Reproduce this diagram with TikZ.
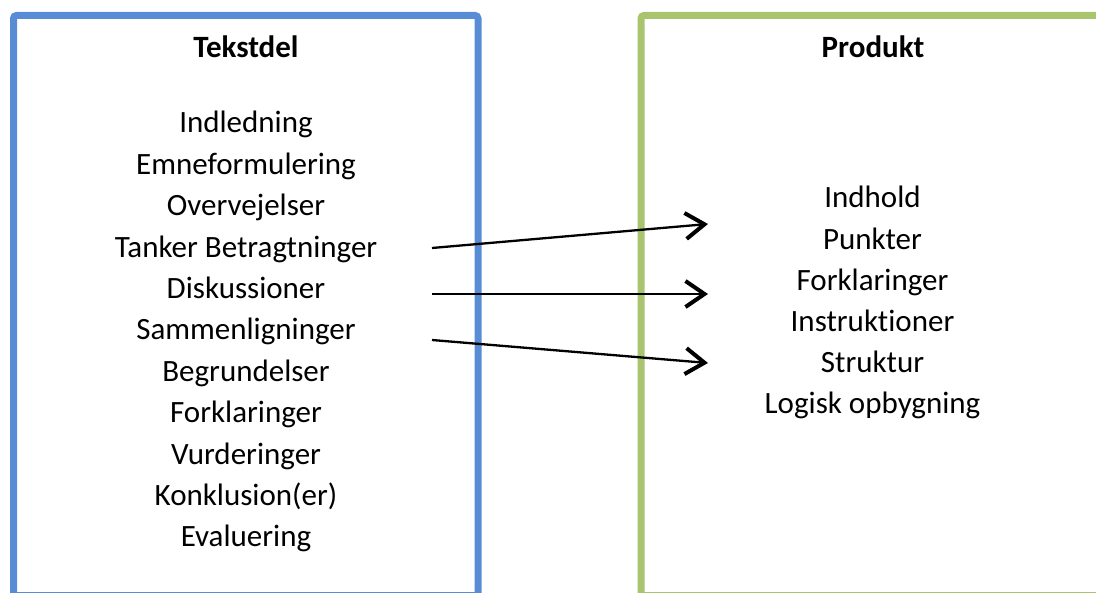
\documentclass[tikz,border=0pt]{standalone}
\usepackage{fontspec}
\setmainfont[Ligatures={NoCommon}]{Carlito}
\usetikzlibrary{arrows.meta}
\definecolor{boxblue}{RGB}{88,140,212}
\definecolor{boxgreen}{RGB}{168,197,110}
\begin{document}
\begin{tikzpicture}[x=1pt,y=-1pt,
  item/.style={font=\fontsize{31}{37}\selectfont, anchor=base, inner sep=0pt},
  ttl/.style={font=\fontsize{31}{37}\selectfont\bfseries, anchor=base, inner sep=0pt},
  frame/.style={line width=7pt, rounded corners=3pt},
  conn/.style={line width=2.3pt, -{Straight Barb[length=19pt,width=26pt,line width=4pt]}}]
\useasboundingbox (0,0) rectangle (1096,593);
\clip (0,0) rectangle (1096,593);
\draw[frame, boxblue] (13.5,15.5) rectangle (478,595.5);
\draw[frame, boxgreen] (641,15.5) rectangle (1112,595.5);
% left column
\node[ttl] (tekstdel) at (246,58) {Tekstdel};
\node[item] (l1) at (246,133) {Indledning};
\node[item] (l2) at (246,174.4) {Emneformulering};
\node[item] (l3) at (246,215.8) {Overvejelser};
\node[item] (l4) at (246,257.2) {Tanker Betragtninger};
\node[item] (l5) at (246,298.6) {Diskussioner};
\node[item] (l6) at (246,340) {Sammenligninger};
\node[item] (l7) at (246,381.4) {Begrundelser};
\node[item] (l8) at (246,422.8) {Forklaringer};
\node[item] (l9) at (246,464.2) {Vurderinger};
\node[item] (l10) at (246,505.6) {Konklusion(er)};
\node[item] (l11) at (246,547) {Evaluering};
% right column
\node[ttl] (produkt) at (873,58) {Produkt};
\node[item] (r1) at (872.5,208) {Indhold};
\node[item] (r2) at (872.5,249.2) {Punkter};
\node[item] (r3) at (872.5,290.4) {Forklaringer};
\node[item] (r4) at (872.5,331.6) {Instruktioner};
\node[item] (r5) at (872.5,372.8) {Struktur};
\node[item] (r6) at (872.5,414) {Logisk opbygning};
% connectors
\coordinate (a1s) at (432,248);
\coordinate (a1e) at (708,224);
\coordinate (a2s) at (432,294);
\coordinate (a2e) at (708,294);
\coordinate (a3s) at (432,340);
\coordinate (a3e) at (708,363);
\draw[conn] (a1s) -- (a1e);
\draw[conn] (a2s) -- (a2e);
\draw[conn] (a3s) -- (a3e);
\end{tikzpicture}
\end{document}
